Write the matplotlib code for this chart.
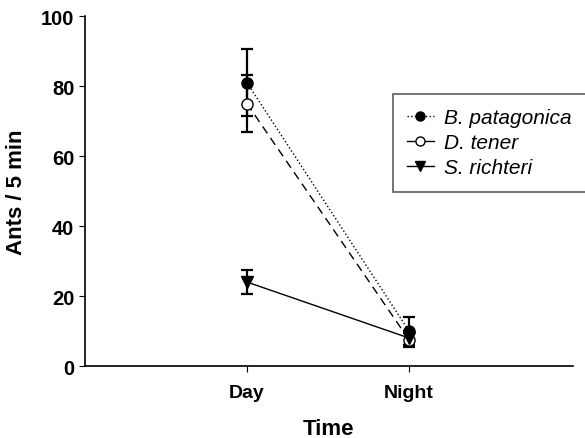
import matplotlib
matplotlib.use("Agg")
import matplotlib.pyplot as plt
from matplotlib.lines import Line2D

plt.rcParams["font.family"] = ["Liberation Sans", "DejaVu Sans"]
plt.rcParams["font.weight"] = "bold"

periods = ["Day", "Night"]
x_pos = [1, 2]

bp_mean = [81, 10]
bp_err = [9.5, 4]
dt_mean = [75, 7.5]
dt_err = [8.2, 2]
sr_mean = [24, 8]
sr_err = [3.5, 2]

fig = plt.figure(figsize=(5.85, 4.39), dpi=100)
ax = fig.add_axes([0.145, 0.164, 0.834, 0.797])

common = dict(color="black", ecolor="black", elinewidth=1.6, capsize=4.3,
              capthick=1.6, markersize=8, lw=1.0)
ax.errorbar(x_pos, bp_mean, yerr=bp_err, fmt="o", ls=":", mfc="black", **common)
ax.errorbar(x_pos, dt_mean, yerr=dt_err, fmt="o", ls=(0, (6, 4)), mfc="white", **common)
ax.errorbar(x_pos, sr_mean, yerr=sr_err, fmt="v", ls="-", mfc="black", **common)

ax.set_xlim(0, 3.01)
ax.set_ylim(0, 100)
ax.set_xticks(x_pos)
ax.set_xticklabels(periods, fontsize=14, fontweight="bold")
ax.set_yticks(range(0, 101, 20))
ax.tick_params(axis="y", labelsize=14.5, direction="out", length=4)
ax.tick_params(axis="x", direction="out", length=4, pad=9)
for lab in ax.get_yticklabels():
    lab.set_fontweight("bold")

ax.spines["top"].set_visible(False)
ax.spines["right"].set_visible(False)
for s in ("left", "bottom"):
    ax.spines[s].set_linewidth(1.2)

ax.set_xlabel("Time", fontsize=16, fontweight="bold", labelpad=12)
ax.set_ylabel("Ants / 5 min", fontsize=16, fontweight="bold", labelpad=10)

handles = [
    Line2D([], [], color="black", ls=":", lw=1.0, marker="o", mfc="black", ms=6.5),
    Line2D([], [], color="black", ls="-", lw=1.0, marker="o", mfc="white", ms=6.5),
    Line2D([], [], color="black", ls="-", lw=1.0, marker="v", mfc="black", ms=6.5),
]
labels = ["B. patagonica", "D. tener", "S. richteri"]
leg = ax.legend(handles, labels, loc="upper left", bbox_to_anchor=(0.631, 0.778),
                frameon=True, fancybox=False, edgecolor="#444444",
                handlelength=1.3, handletextpad=0.5, borderpad=0.68,
                labelspacing=0.3, borderaxespad=0,
                prop={"style": "italic", "weight": "normal", "size": 15})
leg.get_frame().set_linewidth(1.3)

fig.savefig("out.png", dpi=100)
